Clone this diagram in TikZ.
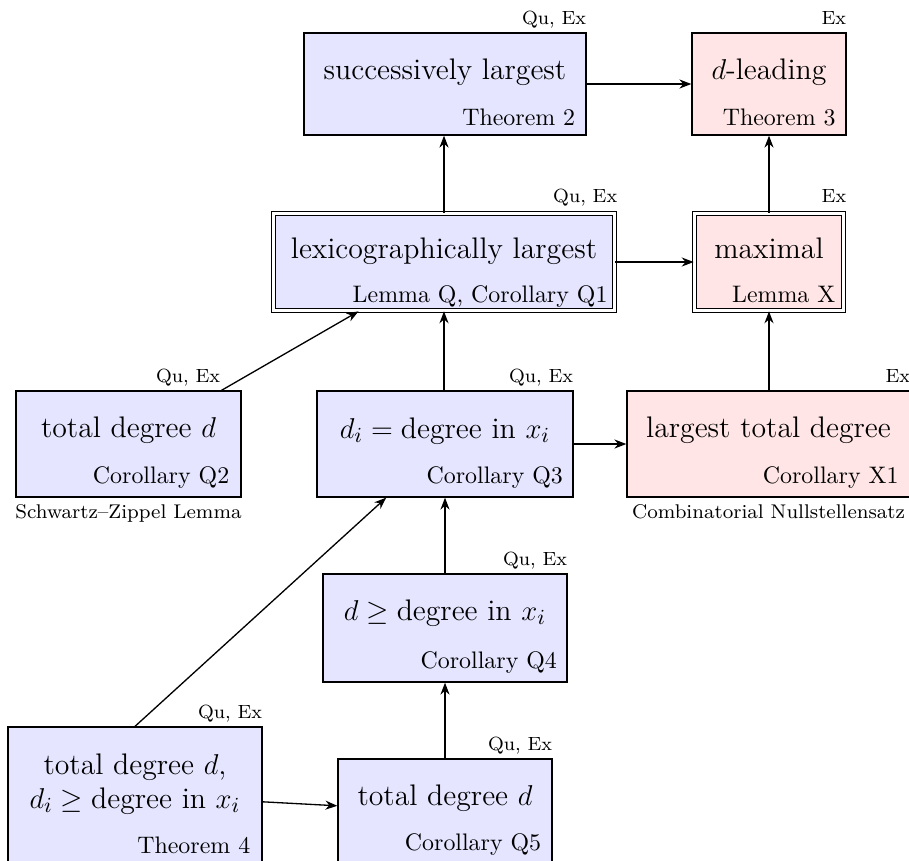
\documentclass[tikz,border=0pt]{standalone}
\usetikzlibrary{arrows.meta,calc}
\def\PX{0.4184pt}
\tikzset{
  box/.style={draw, line width=0.55pt, inner sep=0pt, rectangle},
  bluebox/.style={box, fill=blue!10},
  redbox/.style={box, fill=red!10},
  dbl/.style={line width=0.7pt, double, double distance=1.0pt},
  maintext/.style={font=\fontsize{12.45}{15}\selectfont, anchor=base, inner sep=0pt},
  reftext/.style={anchor=south east, inner sep=0pt},
  refbase/.style={anchor=base east, inner sep=0pt},
  tagtext/.style={font=\footnotesize, anchor=base east, inner sep=0pt},
  captext/.style={font=\fontsize{8.3}{10}\selectfont, anchor=base, inner sep=0pt},
  arr/.style={-{Stealth[length=5pt,width=3.8pt]}, line width=0.55pt},
}
\begin{document}
\begin{tikzpicture}[x=\PX, y=-\PX]
\useasboundingbox (0,0) rectangle (909,860);

% successively largest
\node[bluebox, minimum width=282*\PX, minimum height=102*\PX] (succ) at (445,84) {};
\node[maintext] (succM) at ([yshift=-19.9pt]succ.north) {successively largest};
\node[reftext] (succR) at ([xshift=-4.6pt,yshift=3.8pt]succ.south east) {Theorem 2};
\node[tagtext] (succT) at ([yshift=3.3pt]succ.north east) {Qu, Ex};

% d-leading
\node[redbox, minimum width=154*\PX, minimum height=102*\PX] (dlead) at (769,84) {};
\node[maintext] (dleadM) at ([yshift=-19.9pt]dlead.north) {$d$-leading};
\node[reftext] (dleadR) at ([xshift=-4.4pt,yshift=3.8pt]dlead.south east) {Theorem 3};
\node[tagtext] (dleadT) at ([yshift=3.3pt]dlead.north east) {Ex};

% lexicographically largest
\node[bluebox, dbl, minimum width=341*\PX, minimum height=97*\PX] (lex) at (444,262) {};
\node[maintext] (lexM) at ([yshift=-19.0pt]lex.north) {lexicographically largest};
\node[refbase] (lexR) at ([xshift=-3.1pt,yshift=3.8pt]lex.south east) {Lemma Q, Corollary Q1};
\node[tagtext] (lexT) at ([xshift=1pt,yshift=4.3pt]lex.north east) {Qu, Ex};

% maximal
\node[redbox, dbl, minimum width=149*\PX, minimum height=97*\PX] (maximal) at (769,262) {};
\node[maintext] (maximalM) at ([yshift=-19.0pt]maximal.north) {maximal};
\node[refbase] (maximalR) at ([xshift=-3.6pt,yshift=3.8pt]maximal.south east) {Lemma X};
\node[tagtext] (maximalT) at ([xshift=1pt,yshift=4.3pt]maximal.north east) {Ex};

% total degree d (Q2)
\node[bluebox, minimum width=225*\PX, minimum height=106*\PX] (q2) at (128.5,444) {};
\node[maintext] (q2M) at ([yshift=-19.9pt]q2.north) {total degree $d$};
\node[reftext] (q2R) at ([xshift=-5pt,yshift=3.8pt]q2.south east) {Corollary Q2};
\node[tagtext] (q2T) at ([xshift=-8.8pt,yshift=3.4pt]q2.north east) {Qu, Ex};
\node[captext] (q2C) at ([yshift=-8.6pt]q2.south) {Schwartz--Zippel Lemma};

% d_i = degree in x_i (Q3)
\node[bluebox, minimum width=256*\PX, minimum height=106*\PX] (q3) at (445,444) {};
\node[maintext] (q3M) at ([yshift=-20.2pt]q3.north) {$d_i = \mbox{degree in } x_i$};
\node[reftext] (q3R) at ([xshift=-4.3pt,yshift=3.8pt]q3.south east) {Corollary Q3};
\node[tagtext] (q3T) at ([yshift=3.4pt]q3.north east) {Qu, Ex};

% largest total degree (X1)
\node[redbox, minimum width=283*\PX, minimum height=106*\PX] (x1) at (768.5,444) {};
\node[maintext] (x1M) at ([yshift=-19.9pt]x1.north) {largest total degree};
\node[reftext] (x1R) at ([xshift=-4.9pt,yshift=3.8pt]x1.south east) {Corollary X1};
\node[tagtext] (x1T) at ([yshift=3.4pt]x1.north east) {Ex};
\node[captext] (x1C) at ([yshift=-8.6pt]x1.south) {Combinatorial Nullstellensatz};

% d >= degree in x_i (Q4)
\node[bluebox, minimum width=244*\PX, minimum height=108*\PX] (q4) at (445,628) {};
\node[maintext] (q4M) at ([yshift=-19.8pt]q4.north) {$d \geq \mbox{degree in } x_i$};
\node[reftext] (q4R) at ([xshift=-4.3pt,yshift=3.8pt]q4.south east) {Corollary Q4};
\node[tagtext] (q4T) at ([yshift=3.4pt]q4.north east) {Qu, Ex};

% Theorem 4
\node[bluebox, minimum width=254*\PX, minimum height=136*\PX] (t4) at (135,795) {};
\node[maintext] (t4M1) at ([yshift=-20.1pt]t4.north) {total degree $d$,};
\node[maintext] (t4M2) at ([yshift=-34.2pt]t4.north) {$d_i \geq \mbox{degree in } x_i$};
\node[reftext] (t4R) at ([xshift=-5pt,yshift=3.8pt]t4.south east) {Theorem 4};
\node[tagtext] (t4T) at ([yshift=3.4pt]t4.north east) {Qu, Ex};

% total degree d (Q5)
\node[bluebox, minimum width=214*\PX, minimum height=105*\PX] (q5) at (445,811.5) {};
\node[maintext] (q5M) at ([yshift=-19.7pt]q5.north) {total degree $d$};
\node[reftext] (q5R) at ([xshift=-4.6pt,yshift=3.8pt]q5.south east) {Corollary Q5};
\node[tagtext] (q5T) at ([yshift=3.4pt]q5.north east) {Qu, Ex};

% connectors
\draw[arr] (succ) -- (dlead);
\draw[arr] (lex.north) -- (lex.north |- succ.south);
\draw[arr] (maximal) -- (dlead);
\draw[arr] (lex) -- (maximal);
\draw[arr] (q2) -- (lex);
\draw[arr] (q3.north -| lex.south) -- (lex.south);
\draw[arr] (q3) -- (x1);
\draw[arr] (x1.north -| maximal.south) -- (maximal.south);
\draw[arr] (q4) -- (q3);
\draw[arr] (q5) -- (q4);
\draw[arr] (t4.north) -- (q3);
\draw[arr] (t4) -- (q5);
\end{tikzpicture}
\end{document}
